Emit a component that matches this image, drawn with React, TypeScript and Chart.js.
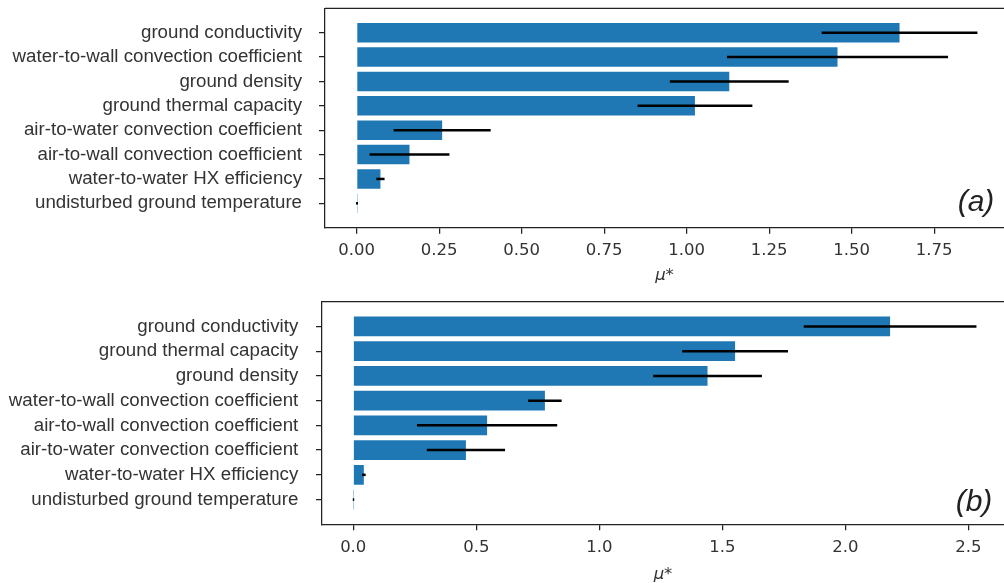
import React, { useEffect, useRef } from "react";
import { Chart, registerables } from "chart.js";

Chart.register(...registerables);

// ---- Panel (a) data ----
const topLabels = [
  "ground conductivity",
  "water-to-wall convection coefficient",
  "ground density",
  "ground thermal capacity",
  "air-to-water convection coefficient",
  "air-to-wall convection coefficient",
  "water-to-water HX efficiency",
  "undisturbed ground temperature",
];
const topMu = [1.645, 1.457, 1.129, 1.025, 0.259, 0.16, 0.072, 0.001];
const topConf = [0.236, 0.335, 0.18, 0.174, 0.147, 0.121, 0.0125, 0.003];
const topTicks = [0, 0.25, 0.5, 0.75, 1.0, 1.25, 1.5, 1.75];

// ---- Panel (b) data ----
const bottomLabels = [
  "ground conductivity",
  "ground thermal capacity",
  "ground density",
  "water-to-wall convection coefficient",
  "air-to-wall convection coefficient",
  "air-to-water convection coefficient",
  "water-to-water HX efficiency",
  "undisturbed ground temperature",
];
const bottomMu = [2.182, 1.552, 1.44, 0.779, 0.544, 0.458, 0.043, 0.001];
const bottomConf = [0.351, 0.215, 0.221, 0.068, 0.285, 0.159, 0.0075, 0.003];
const bottomTicks = [0, 0.5, 1.0, 1.5, 2.0, 2.5];

const AXIS_COLOR = "#222";
const TEXT_COLOR = "#333";

type Geom = {
  height: number;
  padTop: number;
  yAxisWidth: number;
  xAxisHeight: number;
  xMin: number;
  xMax: number;
  xTickPad: number;
  yTickPad: number;
  titlePadBottom: number;
  tag: string;
  tagDx: number;
  tagDy: number;
};

function buildChart(
  canvas: HTMLCanvasElement,
  labels: string[],
  mu: number[],
  conf: number[],
  ticks: number[],
  decimals: number,
  g: Geom
) {
  const errorBars = {
    id: "errorBars",
    afterDatasetsDraw(chart: any) {
      const { ctx, scales } = chart;
      const xs = scales.x;
      const meta = chart.getDatasetMeta(0);
      ctx.save();
      ctx.strokeStyle = "#000";
      ctx.lineWidth = 2.5;
      ctx.lineCap = "butt";
      mu.forEach((m, i) => {
        const el = meta.data[i];
        if (!el) return;
        const yy = el.y;
        ctx.beginPath();
        ctx.moveTo(xs.getPixelForValue(m - conf[i]), yy);
        ctx.lineTo(xs.getPixelForValue(m + conf[i]), yy);
        ctx.stroke();
      });
      ctx.restore();
    },
  };
  const frameAndTag = {
    id: "frameAndTag",
    afterDraw(chart: any) {
      const { ctx, chartArea } = chart;
      ctx.save();
      ctx.strokeStyle = AXIS_COLOR;
      ctx.lineWidth = 1.25;
      ctx.beginPath();
      ctx.moveTo(chartArea.left, chartArea.top);
      ctx.lineTo(chartArea.right, chartArea.top);
      ctx.stroke();
      ctx.fillStyle = "#222";
      ctx.font = "italic 30px 'Liberation Sans', Arial, sans-serif";
      ctx.textAlign = "center";
      ctx.textBaseline = "middle";
      ctx.fillText(g.tag, chartArea.right - g.tagDx, chartArea.bottom - g.tagDy);
      ctx.restore();
    },
  };

  return new Chart(canvas, {
    type: "bar",
    data: {
      datasets: [
        {
          data: mu.map((v, i) => ({ x: v, y: i })),
          backgroundColor: "#1f77b4",
          borderWidth: 0,
          barPercentage: 0.8,
          categoryPercentage: 1.0,
        },
      ],
    },
    options: {
      indexAxis: "y",
      animation: false,
      responsive: false,
      devicePixelRatio: 1,
      layout: { padding: { top: g.padTop, left: 0, right: 0, bottom: 0 } },
      plugins: {
        legend: { display: false },
        tooltip: { enabled: false },
      },
      scales: {
        y: {
          type: "linear",
          reverse: true,
          offset: false,
          min: -1,
          max: labels.length,
          afterBuildTicks: (scale: any) => {
            scale.ticks = labels.map((_, i) => ({ value: i }));
          },
          afterFit: (scale: any) => {
            scale.width = g.yAxisWidth;
            scale.paddingTop = 0;
            scale.paddingBottom = 0;
          },
          ticks: {
            autoSkip: false,
            padding: g.yTickPad,
            color: TEXT_COLOR,
            font: { family: "'Liberation Sans', Arial, sans-serif", size: 18.7 },
            callback: (v: any) => labels[v as number] ?? "",
          },
          grid: {
            display: true,
            offset: false,
            drawOnChartArea: false,
            drawTicks: true,
            tickLength: 6,
            color: AXIS_COLOR,
            lineWidth: 1.25,
          },
          border: { display: true, color: AXIS_COLOR, width: 1.25 },
        },
        x: {
          type: "linear",
          min: g.xMin,
          max: g.xMax,
          afterBuildTicks: (scale: any) => {
            scale.ticks = ticks.map((t) => ({ value: t }));
          },
          afterFit: (scale: any) => {
            scale.height = g.xAxisHeight;
            scale.paddingLeft = 0;
            scale.paddingRight = 0;
          },
          ticks: {
            autoSkip: false,
            maxRotation: 0,
            padding: g.xTickPad,
            color: TEXT_COLOR,
            font: { family: "'DejaVu Sans', sans-serif", size: 16.5 },
            callback: (v: any) => Number(v).toFixed(decimals),
          },
          grid: {
            display: true,
            drawOnChartArea: false,
            drawTicks: true,
            tickLength: 6,
            color: AXIS_COLOR,
            lineWidth: 1.25,
          },
          border: { display: true, color: AXIS_COLOR, width: 1.25 },
          title: {
            display: true,
            text: "μ*",
            color: TEXT_COLOR,
            font: { family: "'DejaVu Sans', sans-serif", size: 16.5, style: "italic", lineHeight: 1 },
            padding: { top: 0, bottom: g.titlePadBottom },
          },
        },
      },
    },
    plugins: [errorBars, frameAndTag],
  } as any);
}

const topGeom: Geom = {
  height: 290,
  padTop: 8.3,
  yAxisWidth: 325,
  xAxisHeight: 62.3,
  xMin: -0.096,
  xMax: 1.9615,
  xTickPad: 7,
  yTickPad: 17,
  titlePadBottom: 6.5,
  tag: "(a)",
  tagDx: 28,
  tagDy: 25,
};

const bottomGeom: Geom = {
  height: 293,
  padTop: 11.7,
  yAxisWidth: 322,
  xAxisHeight: 58.7,
  xMin: -0.127,
  xMax: 2.645,
  xTickPad: 7.8,
  yTickPad: 17.7,
  titlePadBottom: 0,
  tag: "(b)",
  tagDx: 30,
  tagDy: 22,
};

export default function App() {
  const topRef = useRef<HTMLCanvasElement | null>(null);
  const bottomRef = useRef<HTMLCanvasElement | null>(null);

  useEffect(() => {
    const c1 = buildChart(topRef.current!, topLabels, topMu, topConf, topTicks, 2, topGeom);
    const c2 = buildChart(bottomRef.current!, bottomLabels, bottomMu, bottomConf, bottomTicks, 1, bottomGeom);
    return () => {
      c1.destroy();
      c2.destroy();
    };
  }, []);

  return (
    <div style={{ position: "absolute", left: 0, top: 0, width: 1004, height: 583, background: "#fff", overflow: "hidden" }}>
      <canvas
        ref={topRef}
        width={1004}
        height={topGeom.height}
        style={{ position: "absolute", left: 0, top: 0, width: 1004, height: topGeom.height, display: "block" }}
      />
      <canvas
        ref={bottomRef}
        width={1004}
        height={bottomGeom.height}
        style={{ position: "absolute", left: 0, top: 290, width: 1004, height: bottomGeom.height, display: "block" }}
      />
    </div>
  );
}
